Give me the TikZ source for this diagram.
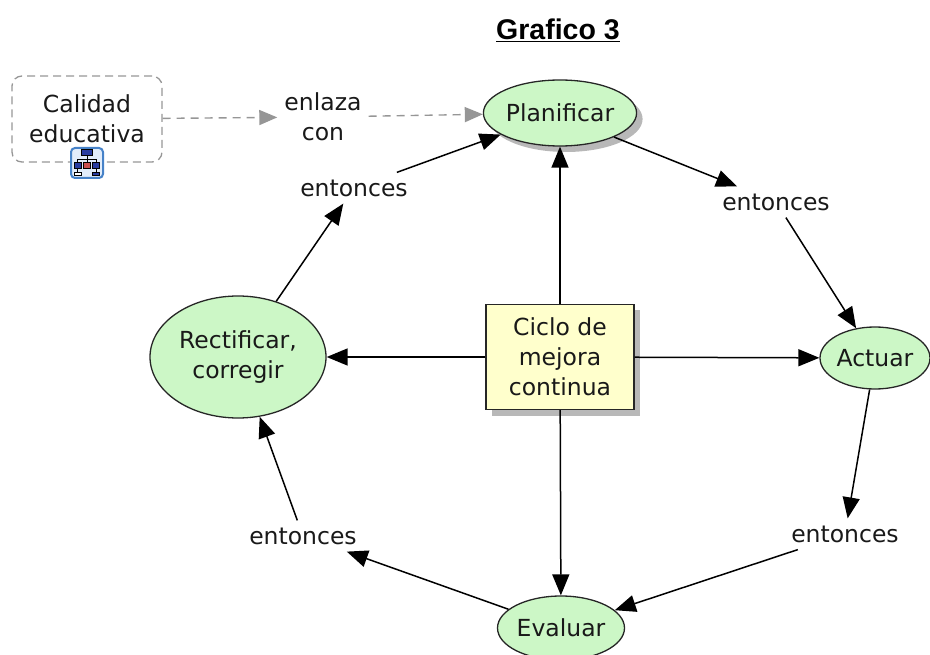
\documentclass[tikz,border=0pt]{standalone}
\usepackage{fontspec}
\setmainfont{DejaVu Sans}
\newfontfamily\titlefont{Liberation Sans}
\usetikzlibrary{arrows.meta,shapes.geometric,shadows}
\definecolor{cgreen}{RGB}{204,247,198}
\definecolor{cyellow}{RGB}{255,255,204}
\definecolor{cgray}{RGB}{150,150,150}
\definecolor{ctext}{RGB}{25,25,25}
\definecolor{iconblue}{RGB}{40,60,160}
\tikzset{
  txt/.style={font=\fontsize{23.5}{30}\selectfont, text=ctext, align=center},
  concept/.style={txt, ellipse, draw=black!85, line width=1.3pt, fill=cgreen, inner sep=0pt},
  linklabel/.style={txt, inner sep=7pt},
  conn/.style={line width=1.5pt, -{Triangle[length=21pt,width=17pt]}},
  dconn/.style={line width=1.4pt, draw=cgray, dash pattern=on 8pt off 6pt, -{Triangle[length=18pt,width=15pt,fill=cgray]}},
  shad/.style={drop shadow={shadow xshift=6pt, shadow yshift=-6pt, fill=black!35, opacity=0.8}}
}
\begin{document}
\begin{tikzpicture}[x=1pt,y=-1pt]
\useasboundingbox (0,0) rectangle (930,655);
% title
\node (title) at (558,30) {\titlefont\fontsize{28.5}{30}\selectfont\bfseries\underline{Grafico 3}};
% nodes
\node[txt, draw=cgray, dash pattern=on 8pt off 5pt, line width=1.3pt, rounded corners=10pt,
      minimum width=150pt, minimum height=86pt] (cal) at (87,119) {Calidad\\educativa};
\node[linklabel] (enl) at (323,117) {enlaza\\con};
\node[concept, shad, minimum width=144pt, minimum height=66pt] (plan) at (560,113) {Planificar};
\node[txt, draw=black!85, line width=1.3pt, fill=cyellow, shad, minimum width=148pt, minimum height=105pt, inner sep=0pt] (ciclo) at (560,357) {Ciclo de\\mejora\\continua};
\node[concept, minimum width=110pt, minimum height=62pt] (act) at (875,358) {Actuar};
\node[concept, minimum width=176pt, minimum height=122pt] (rect) at (238,357) {Rectificar,\\corregir};
\node[concept, minimum width=127pt, minimum height=64pt] (eval) at (561,628) {Evaluar};
\node[linklabel] (etl) at (354,188) {entonces};
\node[linklabel] (etr) at (776,202) {entonces};
\node[linklabel] (ebr) at (845,534) {entonces};
\node[linklabel] (ebl) at (303,536) {entonces};
% icon
\node[draw={rgb,255:red,70;green,130;blue,200}, line width=2pt, fill={rgb,255:red,225;green,236;blue,250},
      rounded corners=4pt, minimum width=32pt, minimum height=30pt, inner sep=0pt] (icon) at (87,163) {};
\begin{scope}[shift={(87,163)}, scale=1.3, line width=1pt]
\draw[fill=iconblue] (-4,-10) rectangle (4,-6);
\draw (0,-6) -- (0,-3) (-7,-3) -- (7,-3) (-7,-3) -- (-7,0) (0,-3) -- (0,0) (7,-3) -- (7,0);
\draw[fill=iconblue] (-9.5,0) rectangle (-4.5,4);
\draw[fill={rgb,255:red,200;green,80;blue,80}] (-2.5,0) rectangle (2.5,4);
\draw[fill=iconblue] (4.5,0) rectangle (9.5,4);
\draw (-7,4) -- (-7,7) (7,4) -- (7,7);
\draw[fill=white] (-9.5,7) rectangle (-4.5,10);
\draw[fill=iconblue] (4.5,7) rectangle (9.5,10);
\end{scope}
% dashed links
\draw[dconn] (cal) -- (enl);
\draw[dconn] (enl) -- (plan);
% center spokes
\draw[conn] (ciclo) -- (plan);
\draw[conn] (ciclo) -- (rect);
\draw[conn] (ciclo) -- (act);
\draw[conn] (ciclo) -- (eval);
% cycle
\draw[conn] (plan.-24) -- (etr);
\draw[conn] (etr) -- (act);
\draw[conn] (act) -- (ebr);
\draw[conn] (ebr) -- (eval);
\draw[conn] (eval) -- (ebl);
\draw[conn] (ebl) -- (rect);
\draw[conn] (rect) -- (etl);
\draw[conn] (etl) -- (plan.200);
\end{tikzpicture}
\end{document}
